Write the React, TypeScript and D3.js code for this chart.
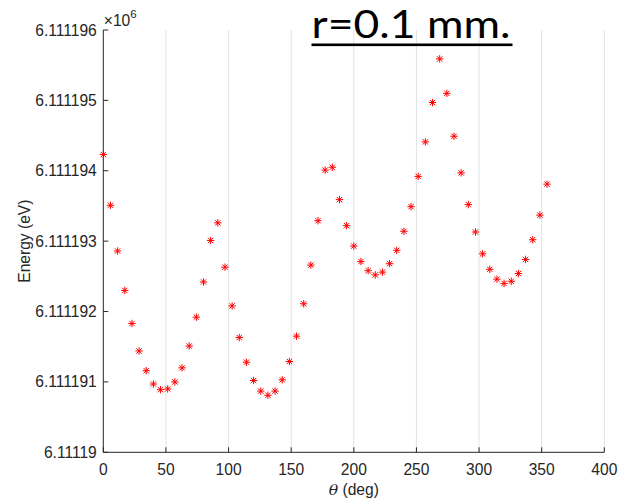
import React from "react";
import * as d3 from "d3";

const theta = [
  0, 5.71, 11.43, 17.14, 22.86, 28.57, 34.29, 40.0, 45.71, 51.43, 57.14, 62.86, 68.57, 74.29, 80.0, 85.71,
  91.43, 97.14, 102.86, 108.57, 114.29, 120.0, 125.71, 131.43, 137.14, 142.86, 148.57, 154.29, 160.0, 165.71,
  171.43, 177.14, 182.86, 188.57, 194.29, 200.0, 205.71, 211.43, 217.14, 222.86, 228.57, 234.29, 240.0, 245.71,
  251.43, 257.14, 262.86, 268.57, 274.29, 280.0, 285.71, 291.43, 297.14, 302.86, 308.57, 314.29, 320.0, 325.71,
  331.43, 337.14, 342.86, 348.57, 354.29,
];

const energy = [
  6111194.23, 6111193.51, 6111192.86, 6111192.3, 6111191.83, 6111191.44, 6111191.16, 6111190.97, 6111190.89,
  6111190.9, 6111191.0, 6111191.2, 6111191.51, 6111191.92, 6111192.42, 6111193.01, 6111193.26, 6111192.63,
  6111192.08, 6111191.63, 6111191.28, 6111191.02, 6111190.87, 6111190.81, 6111190.87, 6111191.03, 6111191.29,
  6111191.65, 6111192.11, 6111192.66, 6111193.29, 6111194.01, 6111194.05, 6111193.59, 6111193.22, 6111192.93,
  6111192.71, 6111192.58, 6111192.52, 6111192.56, 6111192.68, 6111192.87, 6111193.14, 6111193.49, 6111193.92,
  6111194.41, 6111194.97, 6111195.59, 6111195.1, 6111194.49, 6111193.97, 6111193.52, 6111193.13, 6111192.82,
  6111192.6, 6111192.46, 6111192.4, 6111192.43, 6111192.54, 6111192.74, 6111193.02, 6111193.37, 6111193.81,
];

const xTicks = [0, 50, 100, 150, 200, 250, 300, 350, 400];
const yTicks = [6111190, 6111191, 6111192, 6111193, 6111194, 6111195, 6111196];
const yTickLabels = ["6.11119", "6.111191", "6.111192", "6.111193", "6.111194", "6.111195", "6.111196"];

const W = 621;
const H = 501;
const left = 103.3;
const right = 604.3;
const top = 30;
const bottom = 452.3;
const axisColor = "#262626";
const font = "'Liberation Sans', Arial, Helvetica, sans-serif";
const fs = 15.6;

export default function App() {
  const x = d3.scaleLinear().domain([0, 400]).range([left, right]);
  const y = d3.scaleLinear().domain([6111190, 6111196]).range([bottom, top]);
  const r = 3.7;
  const d = r * 0.72;
  const star = `M${-r},0H${r}M0,${-r}V${r}M${-d},${-d}L${d},${d}M${-d},${d}L${d},${-d}`;

  return (
    <svg width={W} height={H} style={{ position: "absolute", left: 0, top: 0, background: "#fff" }}>
      <rect width={W} height={H} fill="#fff" />
      {xTicks.filter((t) => t !== 0).map((t) => (
        <line key={"g" + t} x1={x(t)} x2={x(t)} y1={top} y2={bottom} stroke="#e3e3e3" strokeWidth={1} />
      ))}
      <line x1={left} x2={left} y1={top} y2={bottom} stroke={axisColor} strokeWidth={1} />
      <line x1={left} x2={right} y1={bottom} y2={bottom} stroke={axisColor} strokeWidth={1} />
      {xTicks.map((t) => (
        <g key={"xt" + t}>
          <line x1={x(t)} x2={x(t)} y1={bottom} y2={bottom - 5} stroke={axisColor} />
          <text x={x(t)} y={bottom + 23} textAnchor="middle" fontFamily={font} fontSize={fs} fill={axisColor}>
            {t}
          </text>
        </g>
      ))}
      {yTicks.map((t, i) => (
        <g key={"yt" + t}>
          <line x1={left} x2={left + 5} y1={y(t)} y2={y(t)} stroke={axisColor} />
          <text x={left - 6.5} y={y(t) + 5.5} textAnchor="end" fontFamily={font} fontSize={fs} fill={axisColor}>
            {yTickLabels[i]}
          </text>
        </g>
      ))}
      <text x={left + 0.5} y={25.5} fontFamily={font} fontSize={fs} fill={axisColor}>
        <tspan>×10</tspan>
        <tspan fontSize={11.5} dy={-8}>6</tspan>
      </text>
      <text x={(left + right) / 2} y={495} textAnchor="middle" fontFamily={font} fontSize={fs} fill={axisColor}>
        <tspan fontStyle="italic" fontFamily="'DejaVu Serif', 'Liberation Serif', serif">θ</tspan>
        <tspan> (deg)</tspan>
      </text>
      <text
        transform={`translate(29.5,${(top + bottom) / 2}) rotate(-90)`}
        textAnchor="middle"
        fontFamily={font}
        fontSize={fs}
        fill={axisColor}
      >
        Energy (eV)
      </text>
      {theta.map((t, i) => (
        <path
          key={"p" + i}
          d={star}
          transform={`translate(${x(t)},${y(energy[i])})`}
          stroke="#ff0000"
          strokeWidth={1}
          fill="none"
        />
      ))}
      <text x={311.5} y={37.5} fontFamily="Lato, 'Open Sans', sans-serif" fontSize={39} fill="#000" textLength={199} lengthAdjust="spacingAndGlyphs">
        r=0.1 mm.
      </text>
      <rect x={311.5} y={43.5} width={201} height={2.6} fill="#000" />
    </svg>
  );
}
